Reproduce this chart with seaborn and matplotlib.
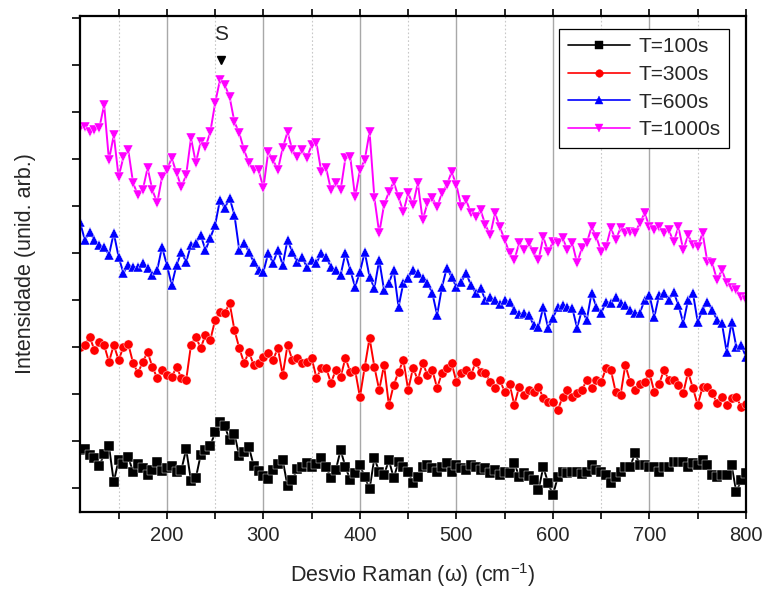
import numpy as np
import pandas as pd
import matplotlib
matplotlib.use("Agg")
import matplotlib.pyplot as plt
import seaborn as sns
from matplotlib.ticker import MultipleLocator, FixedLocator, NullFormatter
from matplotlib.lines import Line2D

# ---------------- data ----------------
raman_shift = list(range(110, 801, 5))

t100 = [62, 63, 57, 54, 46, 58, 66, 30, 52, 48,
        55, 40, 48, 44, 37, 42, 50, 41, 44, 46,
        40, 42, 63, 31, 34, 57, 62, 66, 80, 90,
        86, 72, 78, 56, 60, 65, 46, 41, 36, 33,
        42, 48, 52, 26, 32, 43, 45, 49, 45, 48,
        54, 45, 34, 42, 62, 45, 32, 39, 47, 35,
        23, 54, 40, 37, 52, 34, 50, 45, 40, 29,
        35, 45, 47, 44, 40, 45, 49, 40, 47, 44,
        42, 47, 45, 42, 44, 39, 42, 37, 40, 39,
        49, 35, 39, 36, 32, 22, 45, 29, 17, 35,
        40, 39, 40, 40, 38, 40, 47, 42, 40, 37,
        29, 35, 40, 45, 45, 59, 47, 47, 45, 45,
        40, 45, 45, 50, 50, 50, 45, 49, 47, 52,
        47, 37, 35, 37, 37, 47, 20, 32, 39]

t300 = [165, 167, 175, 162, 170, 167, 150, 167, 152, 165,
        168, 149, 139, 150, 160, 145, 134, 142, 137, 135,
        145, 134, 132, 167, 175, 164, 177, 172, 192, 200,
        199, 209, 182, 164, 149, 160, 147, 149, 155, 159,
        152, 164, 137, 167, 152, 154, 149, 150, 154, 134,
        144, 144, 129, 142, 135, 154, 140, 142, 115, 145,
        174, 145, 122, 147, 107, 127, 140, 152, 122, 144,
        132, 149, 137, 142, 124, 139, 144, 149, 130, 139,
        142, 137, 150, 140, 139, 130, 124, 132, 120, 128,
        107, 125, 117, 122, 120, 125, 114, 110, 110, 102,
        115, 122, 115, 119, 122, 132, 124, 132, 130, 144,
        142, 120, 117, 147, 130, 122, 128, 130, 139, 120,
        128, 142, 132, 132, 127, 119, 140, 124, 107, 125,
        125, 119, 109, 115, 107, 114, 115, 105, 108]

t600 = [290, 272, 280, 272, 267, 265, 257, 279, 255, 239,
        247, 245, 245, 249, 244, 237, 242, 265, 247, 227,
        247, 260, 250, 267, 269, 277, 262, 274, 287, 312,
        304, 314, 297, 262, 269, 260, 250, 242, 240, 259,
        249, 262, 247, 272, 260, 250, 255, 245, 252, 249,
        259, 255, 245, 242, 237, 259, 242, 225, 240, 260,
        235, 224, 252, 222, 229, 242, 205, 229, 234, 242,
        239, 234, 229, 219, 197, 225, 244, 235, 225, 230,
        239, 227, 219, 224, 212, 215, 212, 208, 212, 210,
        202, 198, 199, 197, 187, 185, 205, 184, 194, 205,
        207, 205, 204, 184, 202, 192, 219, 205, 199, 210,
        209, 215, 209, 207, 202, 199, 199, 212, 217, 195,
        217, 219, 212, 220, 207, 189, 212, 219, 190, 202,
        210, 202, 192, 189, 160, 190, 165, 167, 155]

t1000 = [384, 385, 380, 382, 384, 407, 352, 377, 335, 355,
         362, 329, 317, 322, 344, 322, 309, 335, 342, 354,
         339, 325, 337, 374, 349, 370, 365, 380, 409, 432,
         427, 415, 390, 379, 362, 349, 342, 342, 324, 360,
         352, 342, 364, 380, 362, 355, 362, 354, 367, 369,
         340, 344, 322, 329, 322, 354, 355, 315, 342, 352,
         380, 314, 279, 307, 320, 330, 315, 300, 319, 307,
         329, 292, 309, 314, 305, 319, 327, 340, 327, 305,
         312, 299, 295, 302, 287, 277, 299, 285, 272, 259,
         252, 269, 262, 269, 260, 252, 275, 260, 270, 269,
         274, 262, 269, 249, 264, 269, 285, 275, 260, 265,
         284, 272, 284, 279, 280, 279, 289, 299, 285, 282,
         285, 279, 282, 270, 285, 262, 277, 267, 265, 279,
         250, 249, 232, 242, 229, 224, 222, 215, 212]

series_names = ["T=100s", "T=300s", "T=600s", "T=1000s"]
series_values = [t100, t300, t600, t1000]
colors = ["#000000", "#ff0000", "#0000ff", "#ff00ff"]
markers = ["s", "o", "^", "v"]

peak_label = "S"
peak_x = 256

# ---------------- style ----------------
sns.set_theme(style="ticks")
plt.rcParams["font.family"] = ["Liberation Sans", "DejaVu Sans"]
plt.rcParams["mathtext.fontset"] = "custom"
plt.rcParams["mathtext.rm"] = "Liberation Sans"
plt.rcParams["mathtext.it"] = "Liberation Sans:italic"

frames = []
for name, vals in zip(series_names, series_values):
    assert len(vals) == len(raman_shift), (name, len(vals))
    frames.append(pd.DataFrame({"shift": raman_shift, "intensity": vals, "serie": name}))
df = pd.concat(frames, ignore_index=True)

fig = plt.figure(figsize=(7.66, 5.99), dpi=100)
ax = fig.add_axes([80 / 766, 1 - 512 / 599, 666 / 766, 496 / 599])

# grid lines (vertical only)
for xv in range(200, 800, 100):
    ax.axvline(xv, color="#a8a8a8", lw=1.0, zorder=0)
for xv in range(150, 800, 100):
    ax.axvline(xv, color="#c8c8c8", lw=0.8, ls=(0, (1.5, 2)), zorder=0)

sns.lineplot(data=df, x="shift", y="intensity", hue="serie", style="serie",
             palette=dict(zip(series_names, colors)),
             markers=dict(zip(series_names, markers)),
             dashes=False, sort=False, legend=False, ax=ax,
             lw=1.4, markersize=6.6, markeredgewidth=0.3)

# peak marker
ax.plot([peak_x], [452], marker="v", color="black", ms=6, ls="none", clip_on=False)
ax.text(peak_x, 478, peak_label, ha="center", va="center", fontsize=15)

ax.set_xlim(110, 800)
ax.set_ylim(0, 496)
ax.xaxis.set_major_locator(MultipleLocator(100))
ax.xaxis.set_minor_locator(MultipleLocator(50))
ax.yaxis.set_major_locator(FixedLocator([24 + 47 * k for k in range(11)]))
ax.yaxis.set_major_formatter(NullFormatter())
ax.tick_params(axis="x", which="both", direction="out", top=True, bottom=True,
               length=5, width=1.2, labelsize=14.5, pad=5, color="black")
ax.tick_params(axis="y", which="both", direction="out", left=True, right=False,
               length=6, width=1.2, color="black")
for sp in ax.spines.values():
    sp.set_visible(True)
    sp.set_linewidth(1.6)
    sp.set_color("black")

ax.set_xlabel("Desvio Raman (ω) (cm$^{-1}$)", fontsize=15.5, labelpad=12)
ax.set_ylabel("Intensidade (unid. arb.)", fontsize=15.5, labelpad=22)

handles = [Line2D([], [], color=c, marker=m, lw=1.2, ms=5.5, markeredgewidth=0.3)
           for c, m in zip(colors, markers)]
leg = ax.legend(handles, series_names, loc="upper right",
                bbox_to_anchor=(0.9745, 0.974), fontsize=15, frameon=True,
                fancybox=False, edgecolor="black", framealpha=1, numpoints=1,
                handlelength=3.0, handletextpad=0.4, labelspacing=0.42,
                borderpad=0.4, borderaxespad=0)
leg.get_frame().set_linewidth(0.9)

fig.savefig("out.png", dpi=100)
